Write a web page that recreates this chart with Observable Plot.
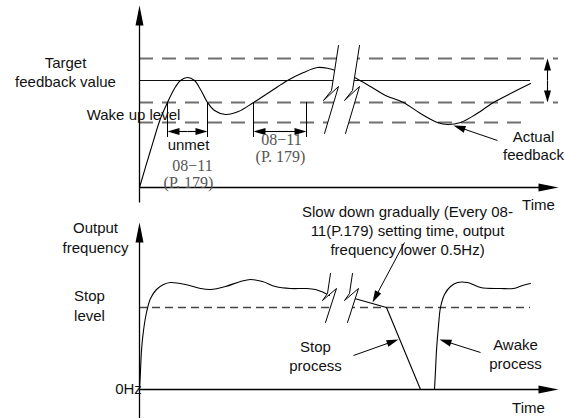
<!DOCTYPE html>
<html><head><meta charset="utf-8">
<script src="https://cdn.jsdelivr.net/npm/d3@7"></script>
<script src="https://cdn.jsdelivr.net/npm/@observablehq/plot@0.6"></script>
<style>
html,body{margin:0;padding:0;background:#fff;}
#chart{position:relative;width:565px;height:418px;}
#chart svg{position:absolute;left:0;top:0;}
</style></head><body><div id="chart"></div>
<script>
// ===== Top panel: feedback value over time (t = time units, v = feedback units) =====
const feedbackDashedLevels = [ // upper band, wake-up band high, wake-up band low
  {v:129, t1:0, t2:419}, {v:85, t1:0, t2:419}, {v:65, t1:0, t2:391}
];
const feedbackTargetLevel = [{v:107, t1:0, t2:391}];
const feedbackBefore = [[0,0],[11,37],[21,69],[28,85],[35,99],[41,107],[48,110],[55,107],[61,98],[68,85],[75,77],[86,73],[99,76],[114,85],[131,96],[148,107],[164,115],[178,120],[189,119],[196,117]];
const feedbackAfter = [[210,112],[215,110],[231,101],[246,92],[264,85],[281,74],[298,65],[308,63],[321,65],[336,73],[354,85],[373,95],[391,104]];
const topBreak = [[199,142],[192,97],[184,87],[199,101],[185,54]];
const topBreakGap = 21;
const unmetSpans = [{t1:28, t2:68}, {t1:114, t2:167}];
const unmetTop = 85, unmetBottom = 50, unmetArrowV = 56;
const bandArrowT = 408;
const topPointers = [{from:[358,47], to:[314,62]}];
const topAxisEnds = {yMin:-15, yTip:182, xTip:419};
const topLabels = [
  {t:-74, v:124, text:"Target", anchor:"middle"},
  {t:-74, v:105, text:"feedback value", anchor:"middle"},
  {t:-6, v:72, text:"Wake up level", anchor:"end"},
  {t:49, v:42, text:"unmet", anchor:"middle"},
  {t:394, v:50, text:"Actual", anchor:"middle"},
  {t:394, v:32, text:"feedback", anchor:"middle"},
  {t:399, v:-18, text:"Time", anchor:"middle"}
];
const topParamLabels = [
  {t:53, v:22, text:"08−11"}, {t:49, v:5, text:"(P. 179)"},
  {t:142, v:48, text:"08−11"}, {t:141, v:31, text:"(P. 179)"}
];

// ===== Bottom panel: output frequency over time (f = frequency units) =====
const stopLevel = [{f:82, t1:0, t2:391}];
const freqBefore = [[0,0],[1,19],[2,39],[4,59],[7,77],[11,91],[17,100],[24,105],[31,107],[46,105],[61,101],[71,100],[86,103],[101,108],[111,110],[123,108],[136,103],[151,101],[166,101],[176,100],[184,97],[190,94]];
const freqSlowDown = [[212,92],[215,91],[247,82],[281,0]];
const freqAwake = [[295,0],[296,19],[297,39],[299,64],[301,82],[305,95],[311,103],[318,107],[328,107],[341,102],[361,101],[374,101],[383,104],[391,106]];
const bottomBreak = [[191,116],[188,96],[183,89],[197,101],[186,67]];
const bottomBreakGap = 22;
const bottomPointers = [{from:[265,147], to:[233,87]}, {from:[214,34], to:[259,50]}, {from:[341,37], to:[300,50]}];
const bottomAxisEnds = {yMin:-29, yTip:167, xTip:419};
const bottomLabels = [
  {t:-44, f:161, text:"Output", anchor:"middle"},
  {t:-44, f:141, text:"frequency", anchor:"middle"},
  {t:-50, f:93, text:"Stop", anchor:"middle"},
  {t:-50, f:73, text:"level", anchor:"middle"},
  {t:-11, f:0, text:"0Hz", anchor:"end"},
  {t:268, f:177, text:"Slow down gradually (Every 08-", anchor:"middle"},
  {t:268, f:158, text:"11(P.179) setting time, output", anchor:"middle"},
  {t:268, f:139, text:"frequency lower 0.5Hz)", anchor:"middle"},
  {t:176, f:42, text:"Stop", anchor:"middle"},
  {t:176, f:23, text:"process", anchor:"middle"},
  {t:376, f:44, text:"Awake", anchor:"middle"},
  {t:376, f:25, text:"process", anchor:"middle"},
  {t:389, f:-19, text:"Time", anchor:"middle"}
];

// ===== helpers =====
const SANS = "Liberation Sans, Arial, sans-serif";
const SERIF = "Liberation Serif, Times New Roman, serif";
function headSymbol(L, hw) {
  return {draw(ctx) { ctx.moveTo(0, 0); ctx.lineTo(-hw, L); ctx.lineTo(hw, L); ctx.closePath(); }};
}
const bigHead = headSymbol(20, 4);
const smallHead = headSymbol(12, 3.5);
function arrowMarks(arrows, L, sym, sw) {
  const shafts = arrows.map(({from, to}) => {
    const dx = to[0] - from[0], dy = to[1] - from[1], len = Math.hypot(dx, dy);
    return {x1: from[0], y1: from[1], x2: to[0] - dx / len * (L - 2), y2: to[1] - dy / len * (L - 2)};
  });
  const heads = arrows.map(({from, to}) => ({x: to[0], y: to[1],
    rot: Math.atan2(to[0] - from[0], to[1] - from[1]) * 180 / Math.PI}));
  return [
    Plot.link(shafts, {x1:"x1", y1:"y1", x2:"x2", y2:"y2", stroke:"#000", strokeWidth: sw}),
    Plot.dot(heads, {x:"x", y:"y", rotate:"rot", symbol: sym, r: 5, fill:"#000", stroke:"none"})
  ];
}
function breakMarks(pts, gap) {
  const second = pts.map(([a, b]) => [a + gap, b]);
  const poly = pts.concat(second.slice().reverse());
  return [
    Plot.line(poly, {x: d => d[0], y: d => d[1], fill: "white", stroke: "none", curve: "linear"}),
    Plot.line(pts, {x: d => d[0], y: d => d[1], stroke: "#000", strokeWidth: 1, curve: "linear"}),
    Plot.line(second, {x: d => d[0], y: d => d[1], stroke: "#000", strokeWidth: 1, curve: "linear"})
  ];
}
const base = {width: 565, height: 418, margin: 0, style: {background: "transparent", overflow: "visible"}};

// ===== top plot =====
const topPlot = Plot.plot({
  ...base,
  x: {domain: [-139, 426], range: [0, 565], axis: null},
  y: {domain: [0, 187], range: [187, 0], axis: null},
  marks: [
    Plot.ruleY(feedbackDashedLevels, {y:"v", x1:"t1", x2:"t2", stroke:"#707070", strokeWidth:1.8, strokeDasharray:"14,9"}),
    Plot.ruleY(feedbackTargetLevel, {y:"v", x1:"t1", x2:"t2", stroke:"#111", strokeWidth:1}),
    Plot.line(feedbackBefore, {x: d => d[0], y: d => d[1], stroke:"#000", strokeWidth:1.1, curve:"catmull-rom"}),
    Plot.line(feedbackAfter, {x: d => d[0], y: d => d[1], stroke:"#000", strokeWidth:1.1, curve:"catmull-rom"}),
    ...breakMarks(topBreak, topBreakGap),
    Plot.ruleX(unmetSpans.flatMap(d => [d.t1, d.t2]), {x: d => d, y1: unmetBottom, y2: unmetTop, stroke:"#000", strokeWidth:1}),
    ...arrowMarks(unmetSpans.flatMap(d => {
      const mid = (d.t1 + d.t2) / 2;
      return [{from:[mid, unmetArrowV], to:[d.t1, unmetArrowV]}, {from:[mid, unmetArrowV], to:[d.t2, unmetArrowV]}];
    }), 12, smallHead, 1.1),
    ...arrowMarks([
      {from:[bandArrowT, (feedbackDashedLevels[0].v + feedbackDashedLevels[1].v) / 2], to:[bandArrowT, feedbackDashedLevels[0].v]},
      {from:[bandArrowT, (feedbackDashedLevels[0].v + feedbackDashedLevels[1].v) / 2], to:[bandArrowT, feedbackDashedLevels[1].v]}
    ], 12, smallHead, 1.1),
    ...arrowMarks(topPointers, 12, smallHead, 1),
    ...arrowMarks([{from:[0, topAxisEnds.yMin], to:[0, topAxisEnds.yTip]}, {from:[0, 0], to:[topAxisEnds.xTip, 0]}], 20, bigHead, 1.3),
    Plot.text(topLabels, {x:"t", y:"v", text:"text", textAnchor: d => d.anchor, fontSize:15, fontFamily:SANS, fill:"#111"}),
    Plot.text(topParamLabels, {x:"t", y:"v", text:"text", fontSize:16, fontFamily:SERIF, fill:"#555"})
  ]
});

// ===== bottom plot =====
const bottomPlot = Plot.plot({
  ...base,
  x: {domain: [-139, 426], range: [0, 565], axis: null},
  y: {domain: [0, 389], range: [389, 0], axis: null},
  marks: [
    Plot.ruleY(stopLevel, {y:"f", x1:"t1", x2:"t2", stroke:"#444", strokeWidth:1.3, strokeDasharray:"8,5"}),
    Plot.line(freqBefore, {x: d => d[0], y: d => d[1], stroke:"#000", strokeWidth:1.1, curve:"catmull-rom"}),
    Plot.line(freqSlowDown, {x: d => d[0], y: d => d[1], stroke:"#000", strokeWidth:1.1, curve:"linear"}),
    Plot.line(freqAwake, {x: d => d[0], y: d => d[1], stroke:"#000", strokeWidth:1.1, curve:"catmull-rom"}),
    ...breakMarks(bottomBreak, bottomBreakGap),
    ...arrowMarks(bottomPointers, 12, smallHead, 1),
    ...arrowMarks([{from:[0, bottomAxisEnds.yMin], to:[0, bottomAxisEnds.yTip]}, {from:[0, 0], to:[bottomAxisEnds.xTip, 0]}], 20, bigHead, 1.3),
    Plot.text(bottomLabels, {x:"t", y:"f", text:"text", textAnchor: d => d.anchor, fontSize:15, fontFamily:SANS, fill:"#111"})
  ]
});

const el = document.getElementById("chart");
el.appendChild(topPlot);
el.appendChild(bottomPlot);
</script></body></html>
